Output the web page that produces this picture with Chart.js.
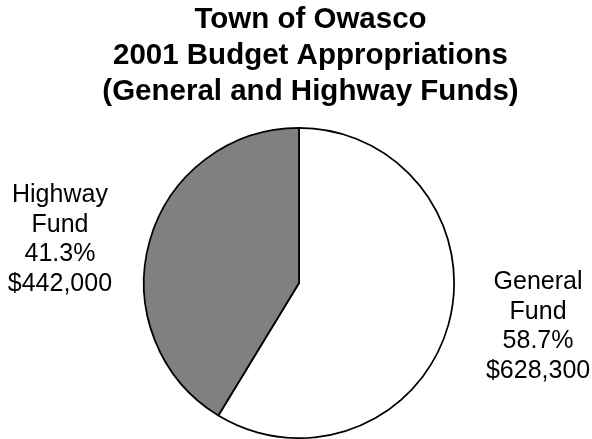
<!DOCTYPE html>
<html>
<head>
<meta charset="utf-8">
<script src="https://cdn.jsdelivr.net/npm/chart.js@4"></script>
<style>
  html, body { margin: 0; padding: 0; background: #ffffff; }
  #wrap { width: 592px; height: 439px; }
</style>
</head>
<body>
<div id="wrap"><canvas id="budgetChart"></canvas></div>
<script>
const titleLines = ['Town of Owasco', '2001 Budget Appropriations', '(General and Highway Funds)'];
const fundNames = [['General', 'Fund'], ['Highway', 'Fund']];
const appropriations = [628300, 442000];
const sliceColors = ['#ffffff', '#808080'];

const total = appropriations.reduce((a, b) => a + b, 0);
const fontFamily = '"Liberation Sans", Arial, sans-serif';

function formatMoney(v) {
    return '$' + v.toLocaleString('en-US');
}

// Title sits a little right of the pie, as in the original chart
const titleBlock = {
    id: 'titleBlock',
    afterDraw(chart) {
        const ctx = chart.ctx;
        ctx.save();
        ctx.font = 'bold 29.5px ' + fontFamily;
        ctx.fillStyle = '#000000';
        ctx.textAlign = 'center';
        ctx.textBaseline = 'alphabetic';
        titleLines.forEach((t, k) => ctx.fillText(t, 310.5, 28 + k * 36));
        ctx.restore();
    }
};

// Outside labels, placed next to each slice's mid angle
const sliceLabels = {
    id: 'sliceLabels',
    afterDatasetsDraw(chart) {
        const ctx = chart.ctx;
        const meta = chart.getDatasetMeta(0);
        const lineH = 29.5;
        ctx.save();
        ctx.font = '25px ' + fontFamily;
        ctx.fillStyle = '#000000';
        ctx.textAlign = 'center';
        ctx.textBaseline = 'middle';
        meta.data.forEach((arc, i) => {
            const p = arc.getProps(['x', 'y', 'startAngle', 'endAngle', 'outerRadius'], true);
            const mid = (p.startAngle + p.endAngle) / 2;
            const lines = fundNames[i].concat([
                (appropriations[i] / total * 100).toFixed(1) + '%',
                formatMoney(appropriations[i])
            ]);
            const halfW = Math.max(...lines.map(t => ctx.measureText(t).width)) / 2;
            const d = p.outerRadius + 39;
            const ax = p.x + Math.cos(mid) * d;
            const ay = p.y + Math.sin(mid) * d;
            const lx = ax + Math.sign(Math.cos(mid)) * halfW;
            const ly = ay - Math.sin(mid) * 33;
            lines.forEach((t, k) => {
                ctx.fillText(t, lx, ly + (k - (lines.length - 1) / 2) * lineH);
            });
        });
        ctx.restore();
    }
};

new Chart(document.getElementById('budgetChart'), {
    type: 'pie',
    data: {
        labels: fundNames.map(n => n.join(' ')),
        datasets: [{
            data: appropriations,
            backgroundColor: sliceColors,
            borderColor: '#000000',
            borderWidth: 1.75,
            borderAlign: 'center'
        }]
    },
    options: {
        responsive: true,
        maintainAspectRatio: false,
        animation: false,
        layout: { padding: { left: 6, right: 0, top: 127, bottom: 0 } },
        plugins: {
            legend: { display: false },
            tooltip: { enabled: false },
            title: { display: false }
        }
    },
    plugins: [sliceLabels, titleBlock]
});
</script>
</body>
</html>
